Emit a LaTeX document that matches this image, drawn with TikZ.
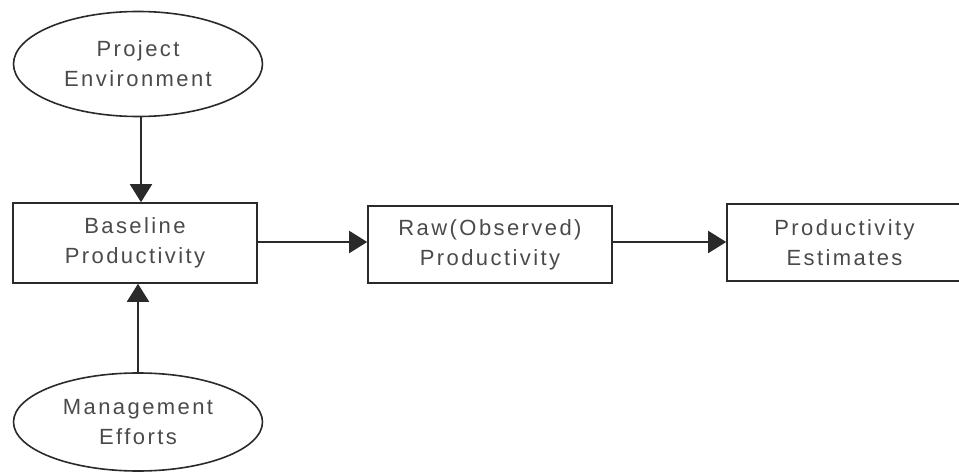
\documentclass[tikz,border=0pt]{standalone}
\usepackage{fontspec}
\setmainfont[LetterSpace=11]{Liberation Sans}
\usetikzlibrary{shapes.geometric,arrows.meta}
\definecolor{txtgray}{HTML}{4A4A4A}
\definecolor{linegray}{HTML}{2A2A2A}
\begin{document}
\begin{tikzpicture}[x=1pt,y=-1pt,
  every node/.style={font=\fontsize{22}{30}\selectfont, text=txtgray, align=center, inner sep=0pt},
  oval/.style={ellipse, draw=linegray, line width=1.6pt},
  boxnode/.style={rectangle, draw=linegray, line width=1.6pt},
  conn/.style={draw=linegray, line width=1.8pt, -{Triangle[length=18pt,width=22pt]}}]
\useasboundingbox (0,0) rectangle (959,473);
\node[oval, minimum width=249pt, minimum height=105pt] (pe) at (138,64) {Project\\Environment};
\node[boxnode, minimum width=244pt, minimum height=80pt] (bp) at (135,243) {Baseline\\Productivity};
\node[boxnode, minimum width=244pt, minimum height=77pt] (raw) at (490,244.5) {Raw(Observed)\\Productivity};
\node[boxnode, minimum width=235pt, minimum height=77pt] (est) at (844.5,242.5) {Productivity\\Estimates};
\node[oval, minimum width=249pt, minimum height=98pt] (me) at (138,422) {Management\\Efforts};
\coordinate (petop) at ([xshift=3pt]pe.south);
\draw[conn] (petop) -- (petop |- bp.north);
\draw[conn] (me.north) -- (me.north |- bp.south);
\draw[conn] (bp.east |- 0,242) -- (raw.west |- 0,242);
\draw[conn] (raw.east |- 0,242) -- (est.west |- 0,242);
\end{tikzpicture}
\end{document}
